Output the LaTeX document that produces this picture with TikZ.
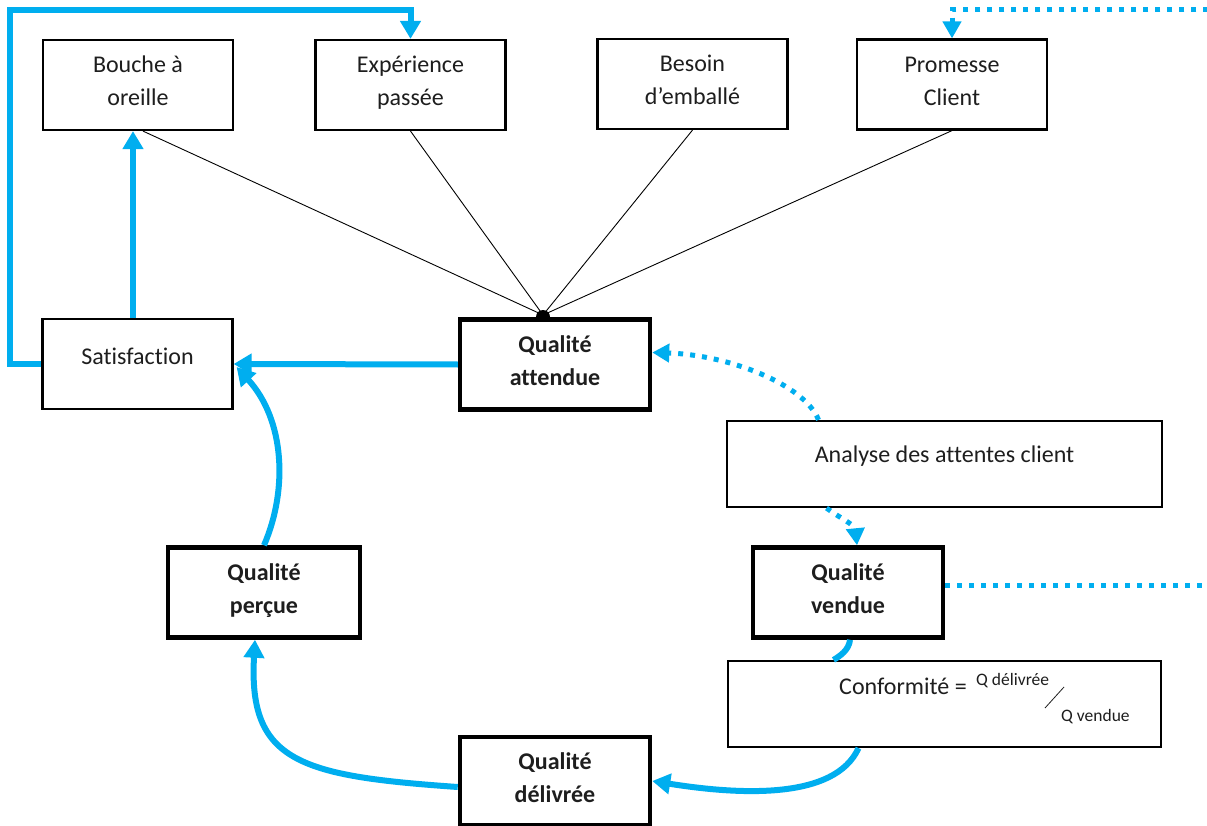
\documentclass[tikz,border=0pt]{standalone}
\usepackage{fontspec}
\setmainfont{Carlito}[Ligatures=NoCommon]
\usetikzlibrary{arrows.meta,backgrounds}
\definecolor{qblue}{RGB}{0,174,239}
\definecolor{ink}{RGB}{30,30,30}
% struts giving every line the same height and depth
\newcommand\twoline{\rule[-11pt]{0pt}{31pt}}
\newcommand\oneline{\rule[-15pt]{0pt}{30pt}}
\newcommand\highline{\rule[-19pt]{0pt}{30pt}}

\begin{document}
\begin{tikzpicture}[x=1pt,y=-1pt,
  box/.style={draw=black,line width=2.2pt,fill=white,minimum width=190pt,
    minimum height=90pt,inner sep=0pt,align=center,text=ink,
    font=\fontsize{24}{33}\selectfont},
  keybox/.style={box,line width=4.5pt,font=\bfseries\fontsize{24}{33}\selectfont},
  flow/.style={qblue,line width=6pt},
  tip/.style={-{Triangle[width=20pt,length=18pt]}},
  dtip/.style={-{Triangle[width=18pt,length=17pt]}},
  dots/.style={qblue,line width=5pt,dash pattern=on 5pt off 7pt},
  link/.style={black,line width=0.9pt},
  formula/.style={inner sep=0pt,text=ink}]

\useasboundingbox (0,0) rectangle (1207,826);

% factors of the expected quality
\node[box] (bouche)   at (138,85)   {\twoline Bouche à\\\twoline oreille};
\node[box] (exper)    at (410.5,85) {\twoline Expérience\\\twoline passée};
\node[box] (besoin)   at (692.5,84) {\twoline Besoin\\\twoline d’emballé};
\node[box] (promesse) at (952,84.5) {\twoline Promesse\\\twoline Client};

% quality loop
\node[box] (satis)       at (137.5,364) {\oneline Satisfaction};
\node[keybox] (attendue) at (555,364.5) {\twoline Qualité\\\twoline attendue};
\node[box,minimum width=435pt,minimum height=86pt] (analyse) at (944.5,464)
  {\highline Analyse des attentes client};
\node[keybox] (vendue)   at (848,592.5) {\twoline Qualité\\\twoline vendue};
\node[box,minimum width=433pt,minimum height=86pt] (conform) at (944.5,704) {};
\node[keybox,minimum width=192pt] (percue) at (264,592.5) {\twoline Qualité\\\twoline perçue};
\node[keybox,minimum height=88pt] (delivree) at (555,781) {\twoline Qualité\\\twoline délivrée};

% conformity ratio
\node[formula,anchor=base,font=\fontsize{24}{29}\selectfont] (conftxt) at (903,694) {Conformité =};
\node[formula,anchor=base west,font=\fontsize{17.5}{21}\selectfont] (qdel) at (976,685) {Q délivrée};
\node[formula,anchor=base west,font=\fontsize{17.5}{21}\selectfont] (qven) at (1061,721) {Q vendue};
\draw[ink,line width=0.8pt] (1064,687) -- (1045,708);

% white page and thin links converging on the expected quality, behind the boxes
\begin{scope}[on background layer]
  \fill[white] (0,0) rectangle (1207,826);
  \coordinate (hub) at (543,315);
  \draw[link] ([xshift=5pt]bouche.south) -- (hub);
  \draw[link] (exper.south) -- (hub);
  \draw[link] (besoin.south) -- (hub);
  \draw[link] (promesse.south) -- (hub);
  \fill (543,317) circle (7);
\end{scope}

% solid flows
\draw[flow,tip] ([xshift=-4.5pt]satis.north) -- ([xshift=-5pt]bouche.south);
\draw[flow,tip] (satis.west) -| (10,10) -| (exper.north);
\draw[flow,tip] (attendue.west) -- (satis.east);
\draw[flow,tip] (percue.north) .. controls (288,490) and (285,420) .. ([shift={(3,3)}]satis.east);
\draw[flow,tip] ([yshift=-6pt]delivree.west) .. controls (300,776) and (248,762) .. ([xshift=-9pt]percue.south);
\draw[flow,tip] ([xshift=-86pt]conform.south) .. controls (835,800) and (740,795) .. (delivree.east);
\draw[flow] ([xshift=2pt]vendue.south) .. controls (849,650) and (840,656) .. ([xshift=-111pt]conform.north);

% dotted flows
\draw[dots,dtip] ([xshift=-126pt]analyse.north) .. controls (805,385) and (730,355) .. ([yshift=12pt]attendue.east);
\draw[dots,dtip] ([xshift=-118pt]analyse.south) .. controls (840,518) and (855,525) .. ([xshift=9pt]vendue.north);
\draw[dots,dtip] ([yshift=7pt]vendue.east) -| (1209,10) -| (promesse.north);
\end{tikzpicture}
\end{document}
